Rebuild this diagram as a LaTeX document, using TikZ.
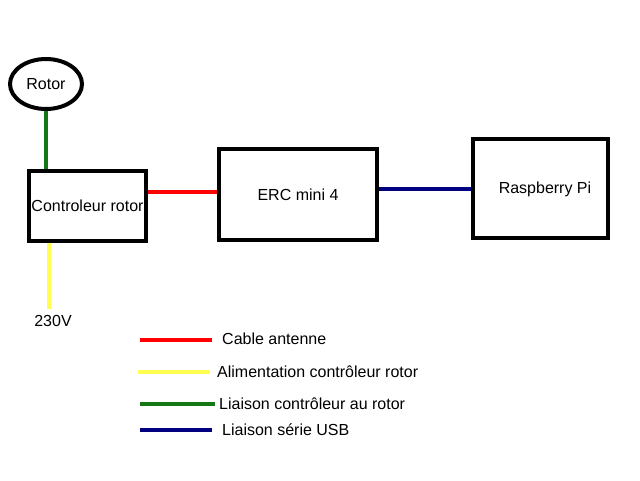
\documentclass[tikz,border=0pt]{standalone}
\usepackage{fontspec}
\setmainfont{Liberation Sans}
\usepackage{tikz}
\usetikzlibrary{positioning, shapes.geometric}
\definecolor{cablered}{RGB}{255,0,0}
\definecolor{powyellow}{RGB}{255,255,80}
\definecolor{rotgreen}{RGB}{20,120,20}
\definecolor{usbblue}{RGB}{0,0,128}
\tikzstyle{block}=[rectangle, draw=black, line width=4pt, inner sep=0pt, font=\fontsize{16}{19}\selectfont]
\tikzstyle{disc}=[ellipse, draw=black, line width=4pt, inner sep=0pt, font=\fontsize{16}{19}\selectfont]
\tikzstyle{wire}=[line width=4pt]
\tikzstyle{legend}=[anchor=west, inner sep=0pt, font=\fontsize{16}{19}\selectfont]

\begin{document}
\begin{tikzpicture}[x=1pt, y=-1pt]
				\useasboundingbox (0,0) rectangle (640,480);
				\node[disc] (rotor) [minimum width=72pt, minimum height=50pt] at (46,84) {Rotor};
				\node[block] (ctrl) [minimum width=117pt, minimum height=70pt] at (87.5,206) {Controleur rotor};
				\node[block] (erc) [minimum width=158pt, minimum height=91pt] at (298,194.5) {ERC mini 4};
				\node[block] (rpi) [minimum width=135pt, minimum height=99pt] at (540.5,188.5) {};
				\node[font=\fontsize{16}{19}\selectfont] (rpitext) at (545,189) {Raspberry Pi};
				\node[font=\fontsize{16}{19}\selectfont, inner sep=0pt] (volt) at (53,321) {230V};

				\draw[wire, rotgreen] (rotor.south) -- (rotor.south |- ctrl.north);
				\draw[wire, cablered] (erc.west) ++(0,-2.5) coordinate (redend) -- (redend -| ctrl.east);
				\draw[wire, usbblue] (rpi.west) -- (rpi.west -| erc.east);
				\draw[wire, powyellow] ([xshift=-4pt, yshift=6pt]volt.north) -- ([xshift=-4pt]volt.north |- ctrl.south);

				% legend
				\node[legend] (lred) at (222,339) {Cable antenne};
				\node[legend] (lyellow) at (217,372) {Alimentation contrôleur rotor};
				\node[legend] (lgreen) at (219,404) {Liaison contrôleur au rotor};
				\node[legend] (lblue) at (222,430) {Liaison série USB};
				\coordinate (sred) at (140,340);
				\coordinate (syellow) at (138,372);
				\coordinate (sgreen) at (140,404);
				\coordinate (sblue) at (140,430);
				\draw[wire, cablered] (sred) -- ([xshift=-10pt]lred.west |- sred);
				\draw[wire, powyellow] (syellow) -- ([xshift=-7pt]lyellow.west |- syellow);
				\draw[wire, rotgreen] (sgreen) -- ([xshift=-4pt]lgreen.west |- sgreen);
				\draw[wire, usbblue] (sblue) -- ([xshift=-10pt]lblue.west |- sblue);
			\end{tikzpicture}
\end{document}
